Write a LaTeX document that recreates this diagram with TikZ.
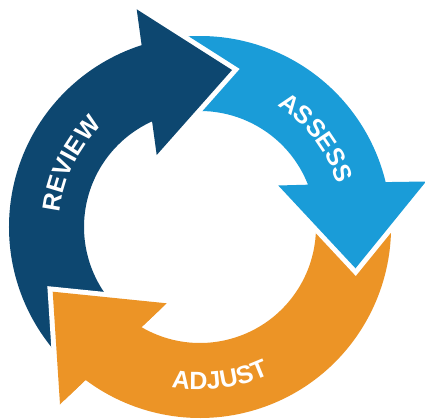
\documentclass[tikz,border=0pt]{standalone}
\usepackage{fontspec}
\setmainfont{Liberation Sans}
\newfontfamily\lblfont{Liberation Sans}
\usetikzlibrary{decorations.text}
\definecolor{rvblue}{HTML}{0D4770}
\definecolor{asblue}{HTML}{1A9CD8}
\definecolor{adorange}{HTML}{EC9426}
\tikzset{
  ringarrow/.style={fill=#1, preaction={draw=white, line width=10pt, line join=miter}},
  lbl/.style={decorate, decoration={text along path, text align=center, text color=white,
     text={|\lblfont\bfseries\fontsize{25}{30}\selectfont|#1}}}
}
\begin{document}
\begin{tikzpicture}[x=1pt,y=1pt]
\useasboundingbox (-200,-191) rectangle (225,227);
\clip (-200,-191) rectangle (225,227);
% ADJUST (orange)
\path[ringarrow=adorange] (17:191pt) arc[start angle=17, end angle=-126.8, radius=191pt]
  -- (-140,-177.3) -- (-147.3,-64.7) -- (-33.3,-76.3)
  -- (-120.3:116pt) arc[start angle=-120.3, end angle=17, radius=116pt] -- cycle;
% ASSESS (light blue)
\path[ringarrow=asblue] (110:191pt) arc[start angle=110, end angle=13.6, radius=191pt]
  -- (226,45.5) -- (155.5,-41.3) -- (78.3,41.5)
  -- (21.4:116pt) arc[start angle=21.4, end angle=110, radius=116pt] -- cycle;
% REVIEW (dark blue)
\path[ringarrow=rvblue] (225:191pt) arc[start angle=225, end angle=107.8, radius=191pt]
  -- (-63.3,217.7) -- (32,157) -- (-43.3,72)
  -- (114.4:116pt) arc[start angle=114.4, end angle=225, radius=116pt] -- cycle;
% orange head on top of the REVIEW tail
\draw[white, line width=10pt, line join=miter] (-33.3,-76.3) -- (-147.3,-64.7) -- (-140,-177.3);
\fill[adorange] (-126.8:191pt) -- (-140,-177.3) -- (-147.3,-64.7) -- (-33.3,-76.3) -- (-120.3:116pt) -- cycle;
% labels
\path[lbl=REVIEW] (194:141pt) arc[start angle=194, end angle=114, radius=141pt];
\path[lbl=ASSESS] (77.5:144pt) arc[start angle=77.5, end angle=-2.5, radius=144pt];
\path[lbl=ADJUST] (237.5:163pt) arc[start angle=237.5, end angle=317.5, radius=163pt];
\end{tikzpicture}
\end{document}
